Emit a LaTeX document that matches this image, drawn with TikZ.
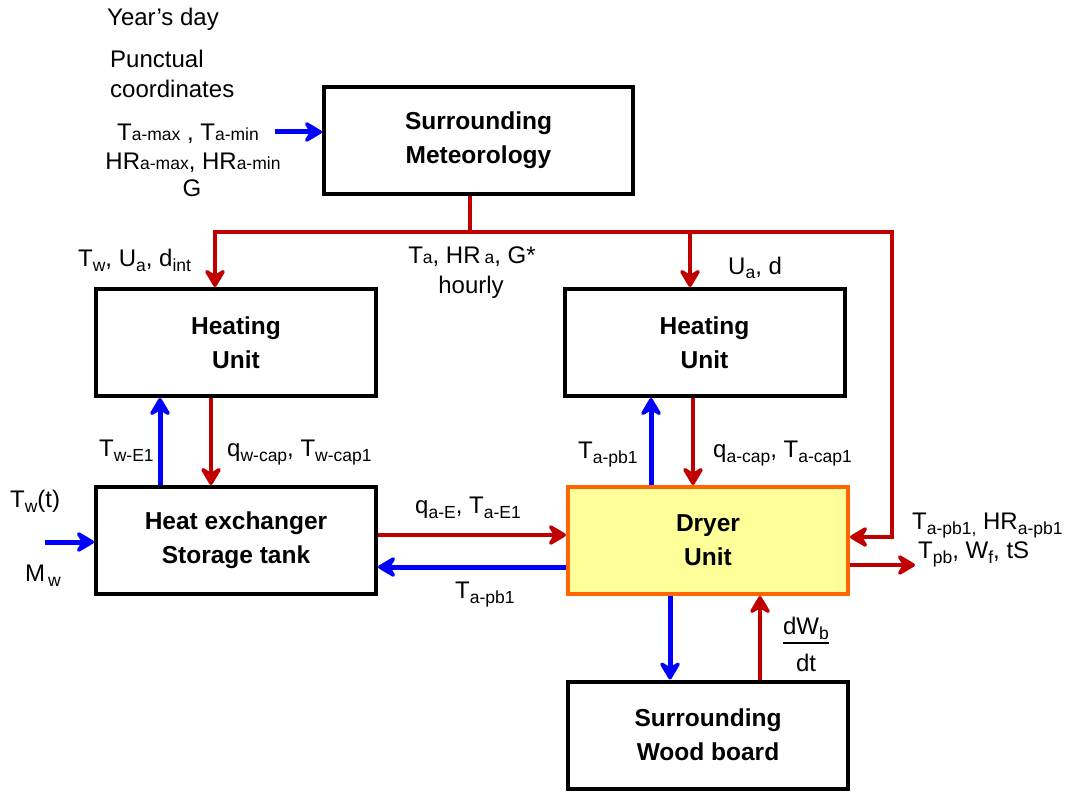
\documentclass[tikz,border=0pt]{standalone}
\usepackage{fontspec}
\setmainfont{Liberation Sans}
\usetikzlibrary{arrows.meta,calc}
\definecolor{ared}{HTML}{C00000}
\definecolor{ablue}{HTML}{0000FF}
\definecolor{dorange}{HTML}{FF6600}
\definecolor{dyellow}{HTML}{FFFF99}
\newcommand\lo[1]{\raisebox{-5pt}{\fontsize{17.5}{17.5}\selectfont #1}}
\newcommand\sm[1]{{\fontsize{17.5}{17.5}\selectfont #1}}
\begin{document}
\begin{tikzpicture}[x=1pt,y=-1pt,
  box/.style={draw=black, line width=4pt, align=center, inner sep=0pt,
    minimum width=280pt, minimum height=107pt,
    font=\fontsize{24.5}{34}\selectfont\bfseries},
  lbl/.style={inner sep=0pt, font=\fontsize{24}{28}\selectfont},
  tip/.style={-{Stealth[length=22pt,width=26pt,inset=8pt,round]}},
  rarr/.style={draw=ared, line width=4.5pt, tip},
  barr/.style={draw=ablue, line width=5pt, tip},
  rline/.style={draw=ared, line width=4pt}]
\useasboundingbox (0,0) rectangle (1070,794);

% boxes
\node[box, minimum width=309pt] (met) at (478.5,140.5) {Surrounding\\Meteorology};
\node[box] (hl) at (236,342.5) {Heating\\Unit};
\node[box] (hr) at (704.5,342.5) {Heating\\Unit};
\node[box] (hx) at (236,540.5) {Heat exchanger\\Storage tank};
\node[box, draw=dorange, fill=dyellow] (dry) at (708,540.5) {Dryer\\Unit};
\node[box] (wood) at (708,735) {Surrounding\\Wood board};

% helper coordinates
\coordinate (j0) at (470,232);
\coordinate (jl) at (215,232);
\coordinate (jr) at (690,232);
\coordinate (je) at (892,232);
\coordinate (jd) at (892,537);
\coordinate (inm) at (275,132);
\coordinate (inx) at (45,542);
\coordinate (xb1) at (160,0);
\coordinate (xr1) at (211,0);
\coordinate (xb2) at (651,0);
\coordinate (xr2) at (693,0);
\coordinate (xb3) at (670,0);
\coordinate (xr3) at (760,0);
\coordinate (yr) at (0,535);
\coordinate (yb) at (0,567);
\coordinate (out) at (915,565);

% inputs
\draw[barr] (inm) -- (met.west |- inm);
\draw[barr] (inx) -- (hx.west |- inx);

% red bus from meteorology
\draw[rline] (met.south -| j0) -- (j0);
\draw[rarr, line width=4pt] (jr) -- (jl) -- (jl |- hl.north);
\draw[rarr, line width=4pt] (jr) -- (jr |- hr.north);
\draw[rarr, line width=4pt] (jr) -- (je) -- (jd) -- (dry.east |- jd);

% left column
\draw[barr] (hx.north -| xb1) -- (hl.south -| xb1);
\draw[rarr] (hl.south -| xr1) -- (hx.north -| xr1);
% right column
\draw[barr] (dry.north -| xb2) -- (hr.south -| xb2);
\draw[rarr] (hr.south -| xr2) -- (dry.north -| xr2);
% exchanger <-> dryer
\draw[rarr] (hx.east |- yr) -- (dry.west |- yr);
\draw[barr] (dry.west |- yb) -- (hx.east |- yb);
% dryer output
\draw[rarr] (dry.east |- out) -- (out);
% dryer <-> wood
\draw[barr] (dry.south -| xb3) -- (wood.north -| xb3);
\draw[rarr] (wood.north -| xr3) -- (dry.south -| xr3);

% labels
\node[lbl, anchor=base west] (t1) at (107,26) {Year’s day};
\node[lbl, anchor=base west] (t2) at (110,68) {Punctual};
\node[lbl, anchor=base west] (t3) at (110,98) {coordinates};
\node[lbl, anchor=base] (t4) at (188,141) {T\sm{a-max} ,\ T\sm{a-min}};
\node[lbl, anchor=base] (t5) at (193,170) {HR\sm{a-max}, HR\sm{a-min}};
\node[lbl, anchor=base] (t6) at (192,197) {G};
\node[lbl, anchor=base west] (t7) at (78,266) {T\lo{w}, U\lo{a}, d\lo{int}};
\node[lbl, anchor=base] (t8) at (472,264) {T\sm{a}, HR\,\sm{a}, G*};
\node[lbl, anchor=base] (t9) at (471,293) {hourly};
\node[lbl, anchor=base west] (t10) at (728,274) {U\lo{a}, d};
\node[lbl, anchor=base west] (t11) at (99,456) {T\lo{w-E1}};
\node[lbl, anchor=base west] (t12) at (227,456) {q\lo{w-cap}, T\lo{w-cap1}};
\node[lbl, anchor=base west] (t13) at (578,458) {T\lo{a-pb1}};
\node[lbl, anchor=base west] (t14) at (713,457) {q\lo{a-cap}, T\lo{a-cap1}};
\node[lbl, anchor=base west] (t15) at (415,513) {q\lo{a-E}, T\lo{a-E1}};
\node[lbl, anchor=base west] (t16) at (455,598) {T\lo{a-pb1}};
\node[lbl, anchor=base west] (t17) at (10,507) {T\lo{w}(t)};
\node[lbl, anchor=base west] (t18) at (25,581) {M\lo{\,w}};
\node[lbl, anchor=base west] (t19) at (912,529) {T\lo{a-pb1,} HR\lo{a-pb1}};
\node[lbl, anchor=base west] (t20) at (918,558) {T\lo{pb}, W\lo{f}, tS};
\node[lbl, anchor=base] (t21) at (806,634) {dW\lo{b}};
\node[lbl, anchor=base] (t22) at (806,671) {dt};
\draw[line width=1.2pt] (t21.south west |- 0,643) -- (t21.south east |- 0,643);
\end{tikzpicture}
\end{document}
